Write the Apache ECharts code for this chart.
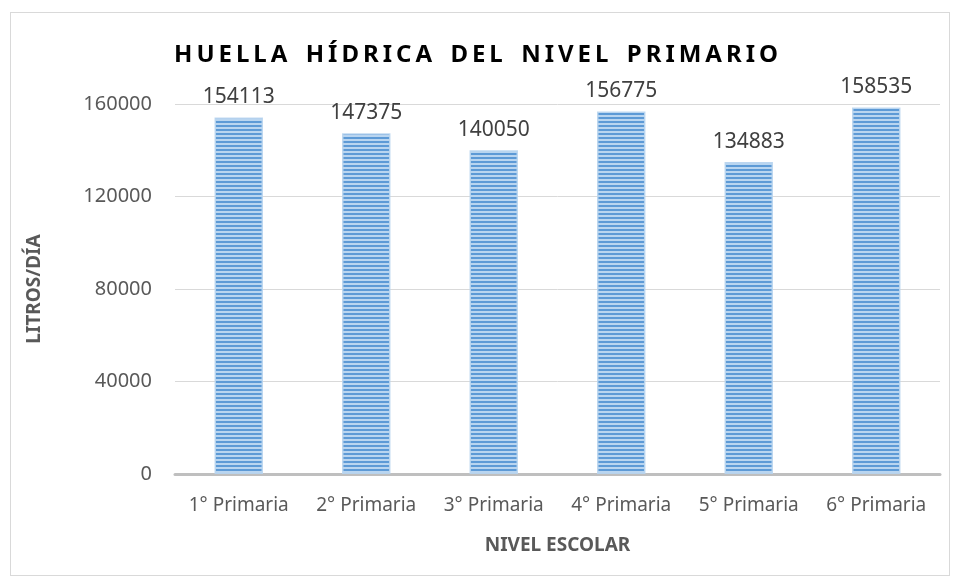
<!DOCTYPE html>
<html>
<head>
<meta charset="utf-8">
<script src="https://cdn.jsdelivr.net/npm/echarts@6/dist/echarts.min.js"></script>
<style>
  html, body { margin: 0; padding: 0; background: #fff; }
  #frame { position: absolute; left: 10px; top: 12px; width: 938px; height: 562px; border: 1px solid #d9d9d9; }
  #chart { width: 956px; height: 581px; }
</style>
</head>
<body>
<div id="frame"></div>
<div id="chart"></div>
<script>
var categories = ['1° Primaria', '2° Primaria', '3° Primaria', '4° Primaria', '5° Primaria', '6° Primaria'];
var litros = [154113, 147375, 140050, 156775, 134883, 158535];
var yTicks = [0, 40000, 80000, 120000, 160000];

// patrón de rayas horizontales
var stripe = document.createElement('canvas');
stripe.width = 4; stripe.height = 4;
var ctx = stripe.getContext('2d');
ctx.fillStyle = '#b9d5f0'; ctx.fillRect(0, 0, 4, 4);
ctx.fillStyle = '#5d9ad6'; ctx.fillRect(0, 1, 4, 2);

// título con letras separadas
var titulo = 'HUELLA HÍDRICA DEL NIVEL PRIMARIO'.split(' ').map(function (w) {
  return w.split('').join('\u2009');
}).join('\u2002\u2009\u200A');

var chart = echarts.init(document.getElementById('chart'));
var font = 'Noto Sans';
chart.setOption({
  animation: false,
  title: {
    text: titulo,
    left: 471, textAlign: 'center', top: 38,
    textStyle: { fontFamily: font, fontSize: 24, fontWeight: 'bold', color: '#000' }
  },
  grid: { left: 175, right: 16, top: 104, bottom: 107 },
  xAxis: {
    type: 'category', data: categories,
    name: 'NIVEL ESCOLAR', nameLocation: 'middle', nameGap: 62,
    nameTextStyle: { fontFamily: font, fontSize: 19, fontWeight: 'bold', color: '#595959' },
    axisLine: { lineStyle: { color: '#bfbfbf', width: 3 } },
    axisTick: { show: false },
    axisLabel: { fontFamily: font, fontSize: 19, color: '#595959', margin: 22, interval: 0 }
  },
  yAxis: {
    type: 'value', min: 0, max: 160000, interval: 40000,
    name: 'LITROS/DÍA', nameLocation: 'middle', nameGap: 131,
    nameTextStyle: { fontFamily: font, fontSize: 19, fontWeight: 'bold', color: '#595959' },
    axisLine: { show: false },
    axisTick: { show: false },
    splitLine: { lineStyle: { color: '#d9d9d9', width: 1 } },
    axisLabel: {
      fontFamily: font, fontSize: 20, color: '#595959', margin: 23,
      formatter: function (v) { return yTicks.indexOf(v) >= 0 ? String(v) : ''; }
    }
  },
  series: [{
    type: 'bar', data: litros, barWidth: '38%',
    itemStyle: { color: { image: stripe, repeat: 'repeat' }, borderColor: 'rgba(185,213,240,0.9)', borderWidth: 1.5 },
    label: { show: true, position: 'top', distance: 10, fontFamily: font, fontSize: 21, color: '#404040' }
  }]
});
</script>
</body>
</html>
